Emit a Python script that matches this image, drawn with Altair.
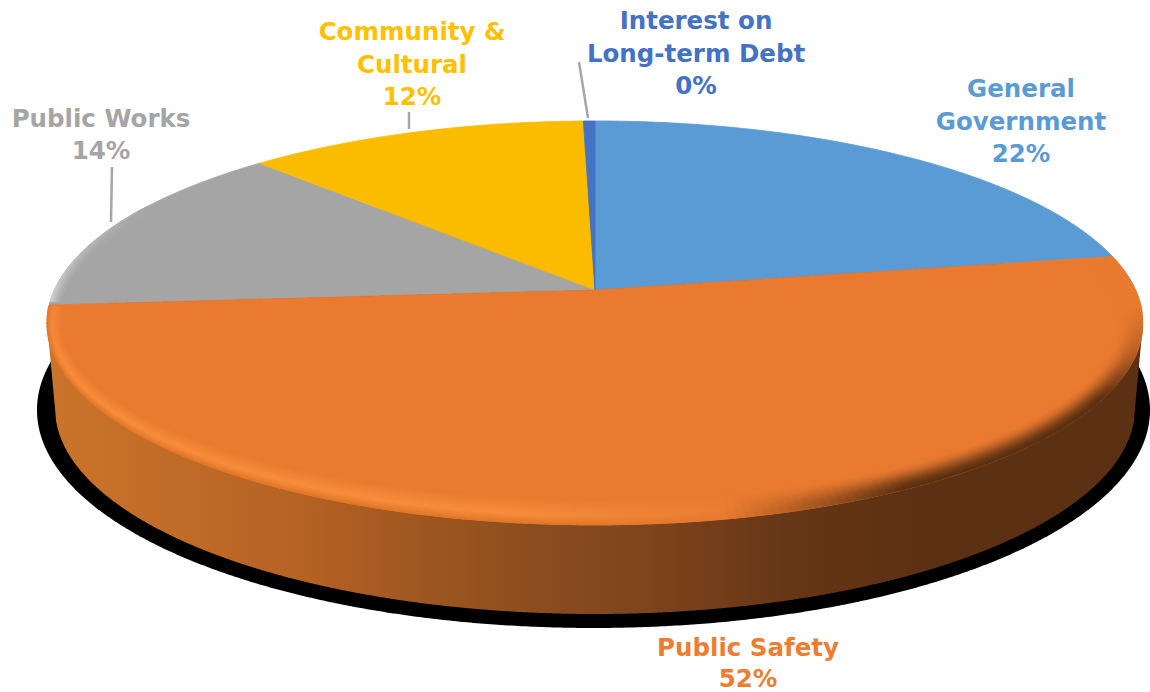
import numpy as np
import pandas as pd
import altair as alt

# Budget shares, clockwise from twelve o'clock
categories = ["General Government", "Public Safety", "Public Works", "Community & Cultural", "Interest on Long-term Debt"]
shares = [22.2, 51.6, 14.0, 11.8, 0.4]
slice_colors = ["#5B9BD5", "#E97A30", "#A5A5A5", "#FBBC00", "#4472C4"]
label_colors = ["#5B9BD5", "#ED7D31", "#A5A5A5", "#FFC000", "#4472C4"]
label_lines = [["General", "Government"], ["Public Safety"], ["Public Works"], ["Community &", "Cultural"], ["Interest on", "Long-term Debt"]]

# Layout of the tilted disc, in canvas units
W, H = 1150, 692
CX, CY = 595, 290
PA, PB, PK = 540.6, 196.6, -0.163
TOP_CY, TOP_RX, TOP_RY = 323, 548, 202
BOT_CY, BOT_RX, BOT_RY = 408, 540, 206
SHADOW = (593.5, 410, 556.5, 218)
label_anchor = {
    0: (1021, 90), 1: (748, 649), 2: (101, 120), 3: (412, 33), 4: (696, 22),
}
line_gap = {0: 32.5, 1: 31, 2: 32, 3: 32.5, 4: 32.5}
leaders = [(579, 62, 588, 118), (409, 112, 409, 129), (112, 167, 111, 222)]

FONT = "DejaVu Sans"
FONT_SIZE = 24.5

xs = alt.X("x:Q", scale=alt.Scale(domain=[0, W], nice=False, zero=False), axis=None)
ys = alt.Y("y:Q", scale=alt.Scale(domain=[H, 0], nice=False, zero=False), axis=None)


def rim(theta):
    """Point on the disc edge under perspective; theta runs clockwise from the top."""
    u, v = np.sin(theta), -np.cos(theta)
    w = 1 + PK * v
    return CX + PA * u / w, CY + PB * v / w


def hex_mix(a, b, t):
    t = min(max(t, 0), 1)
    ca = [int(a[i:i + 2], 16) for i in (1, 3, 5)]
    cb = [int(b[i:i + 2], 16) for i in (1, 3, 5)]
    return "#%02x%02x%02x" % tuple(round(p + (q - p) * t) for p, q in zip(ca, cb))


def wedge_table(start, end):
    """Upper and lower edges of one slice, sampled across x for an area mark."""
    th = np.linspace(start, end, 400)
    px, py = rim(th)
    px = np.r_[CX, px, CX]
    py = np.r_[CY, py, CY]
    grid = np.unique(np.r_[np.arange(np.floor(px.min()), np.ceil(px.max()) + 0.5, 1.0), px[[0, 1, -2]]])
    grid = grid[(grid >= px.min()) & (grid <= px.max())]
    rows = []
    x0, x1, y0, y1 = px[:-1], px[1:], py[:-1], py[1:]
    for x in grid:
        hit = ((x0 <= x) & (x1 >= x)) | ((x1 <= x) & (x0 >= x))
        dx = x1[hit] - x0[hit]
        dy = y1[hit] - y0[hit]
        safe = np.where(np.abs(dx) < 1e-9, 1, dx)
        cross = y0[hit] + dy * (x - x0[hit]) / safe
        rows.append({"x": float(x), "y": float(cross.min()), "y2": float(cross.max())})
    return pd.DataFrame(rows)


def linear(stops):
    return alt.Gradient(
        gradient="linear", x1=0, x2=1, y1=0, y2=0,
        stops=[alt.GradientStop(color=c, offset=o) for o, c in stops],
    )


def area_layer(df, color, **mark):
    return alt.Chart(df).mark_area(color=color, orient="vertical", interpolate="linear", **mark).encode(
        x=xs, y=ys, y2="y2:Q"
    )


fractions = np.cumsum([0] + shares) / sum(shares)
angles = fractions * 2 * np.pi
layers = []

# Drop shadow under the disc
sx, sy, srx, sry = SHADOW
gx = sx + srx * np.cos(np.linspace(0, np.pi, 500))
half = sry * np.sin(np.linspace(0, np.pi, 500))
layers.append(area_layer(pd.DataFrame({"x": gx, "y": sy - half, "y2": sy + half}), "#000000"))

# Side wall, shaded from left to right
gx = np.arange(CX - TOP_RX, CX + TOP_RX + 1, 1.0)
upper = TOP_CY + TOP_RY * np.sqrt(np.clip(1 - ((gx - CX) / TOP_RX) ** 2, 0, 1)) - 3
lower = BOT_CY + BOT_RY * np.sqrt(np.clip(1 - ((gx - CX) / BOT_RX) ** 2, 0, 1))
dist = np.abs(gx - CX)
beyond = dist > BOT_RX
lower[beyond] = BOT_CY + (TOP_CY - BOT_CY) * (dist[beyond] - BOT_RX) / (TOP_RX - BOT_RX)
wall = pd.DataFrame({"x": gx, "y": upper, "y2": lower})
wall_stops = [(0, "#CB742B"), (0.23, "#B66224"), (0.41, "#91501F"), (0.55, "#7E441C"),
              (0.68, "#663615"), (0.8, "#5C3012"), (1, "#5C3012")]
layers.append(area_layer(wall, linear(wall_stops)))

# Top face, one area per slice; a thin outline in the slice colour closes the seams
for i in [2, 3, 0, 4, 1]:
    layers.append(area_layer(wedge_table(angles[i], angles[i + 1]), slice_colors[i],
                             stroke=slice_colors[i], strokeWidth=0.8))

# Bevel on the Public Safety rim as short coloured segments, highlight on the
# lit side and shade on the far side
left_end = rim(angles[2])
right_end = rim(angles[1])
BASE = slice_colors[1]
steps = 16
deg = np.linspace(-25, 205, 240)
segments = []
for n in range(steps):
    t = n / (steps - 1)
    inset = 1.0 + n * 1.7
    phi = np.radians(deg)
    # The bevel runs wider across x on the shaded side than on the lit side
    squeeze = np.where(np.cos(phi) > 0, 1.0, 0.6)
    bx = CX + (TOP_RX - squeeze * inset) * np.cos(phi)
    by = TOP_CY + (TOP_RY - inset) * np.sin(phi)
    edge = np.where(
        bx >= CX,
        CY + (right_end[1] - CY) * (bx - CX) / (right_end[0] - CX),
        CY + (left_end[1] - CY) * (bx - CX) / (left_end[0] - CX),
    )
    lit = hex_mix("#E27729", "#F78E3D", t / 0.35) if t < 0.35 else hex_mix("#F78E3D", BASE, (t - 0.35) / 0.65)
    dark = hex_mix("#5C3012", BASE, t * t * (3 - 2 * t))
    for k in range(len(deg) - 1):
        if by[k] < edge[k] + 1 or by[k + 1] < edge[k + 1] + 1:
            continue
        if abs(bx[k + 1] - bx[k]) > 20:
            continue
        d = deg[k]
        shade = np.interp(d, [-5, 8, 22, 55, 76], [0, 0.35, 1, 1, 0])
        light = np.interp(d, [72, 98, 165, 190], [0, 1, 1, 0.6])
        c = hex_mix(hex_mix(BASE, dark, shade), lit, light)
        segments.append({"x": bx[k], "y": by[k], "x2": bx[k + 1], "y2": by[k + 1], "c": c})
layers.append(
    alt.Chart(pd.DataFrame(segments)).mark_rule(strokeWidth=2.4, strokeCap="round").encode(
        x=xs, y=ys, x2="x2:Q", y2="y2:Q", color=alt.Color("c:N", scale=None, legend=None)
    )
)

# Pale rim along the far-left edge of the Public Works slice
pale = []
gray_deg = np.linspace(183, 215, 40)
for n in range(6):
    inset = 0.8 + n * 1.6
    phi = np.radians(gray_deg)
    bx = CX + (TOP_RX - inset) * np.cos(phi)
    by = TOP_CY + (TOP_RY - 0.7 * inset) * np.sin(phi)
    for k in range(len(gray_deg) - 1):
        edge = CY + (left_end[1] - CY) * (bx[k] - CX) / (left_end[0] - CX)
        if by[k] > edge - 1.5:
            continue
        fade = np.interp(gray_deg[k], [183, 215], [1, 0]) * (1 - n / 6)
        pale.append({"x": bx[k], "y": by[k], "x2": bx[k + 1], "y2": by[k + 1],
                     "c": hex_mix(slice_colors[2], "#D2D2D2", fade)})
layers.append(
    alt.Chart(pd.DataFrame(pale)).mark_rule(strokeWidth=2.2, strokeCap="round").encode(
        x=xs, y=ys, x2="x2:Q", y2="y2:Q", color=alt.Color("c:N", scale=None, legend=None)
    )
)

# Leader lines
for x1, y1, x2, y2 in leaders:
    layers.append(
        alt.Chart(pd.DataFrame({"x": [x1, x2], "y": [y1, y2], "i": [0, 1]}))
        .mark_line(stroke="#A6A6A6", strokeWidth=2.5)
        .encode(x=xs, y=ys, order=alt.Order("i:Q"))
    )

# Data labels: wrapped name, then the rounded share
for i, name_lines in enumerate(label_lines):
    ax, ay = label_anchor[i]
    texts = list(name_lines) + ["%d%%" % round(shares[i])]
    rows = pd.DataFrame({"x": ax, "y": [ay + k * line_gap[i] for k in range(len(texts))], "t": texts})
    layers.append(
        alt.Chart(rows)
        .mark_text(font=FONT, fontSize=FONT_SIZE, fontWeight="bold", color=label_colors[i], align="center", baseline="middle")
        .encode(x=xs, y=ys, text="t:N")
    )

chart = (
    alt.layer(*layers)
    .properties(width=W, height=H, padding=0, autosize=alt.AutoSizeParams(type="none"), background="#FFFFFF")
    .configure_view(stroke=None)
)

chart.save("out.html", embed_options={"renderer": "svg", "actions": False})
